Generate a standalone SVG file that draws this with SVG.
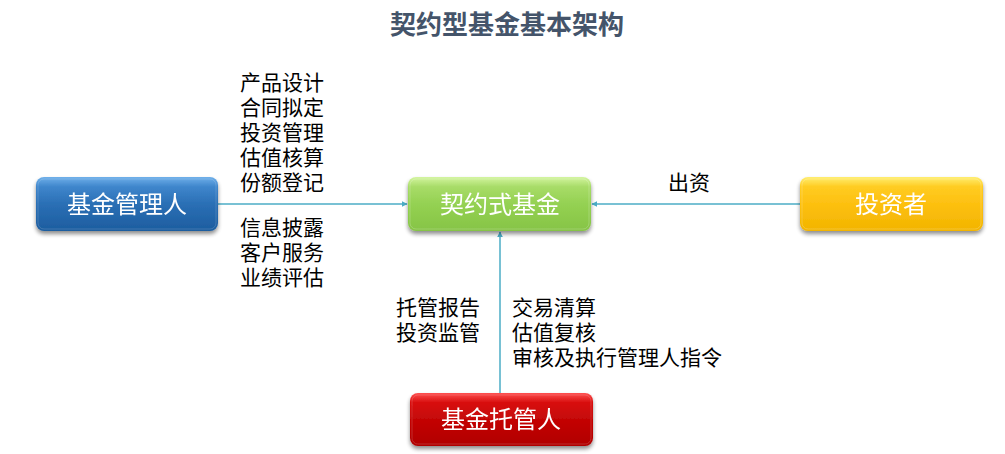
<svg xmlns="http://www.w3.org/2000/svg" width="1005" height="454" viewBox="0 0 1005 454">
<defs>
<style>
.title{font-family:"Noto Sans CJK SC","Liberation Sans",sans-serif;font-size:26px;font-weight:bold;fill:#44546A;text-anchor:middle}
.lbl{font-family:"Noto Sans CJK SC","Liberation Sans",sans-serif;font-size:21px;fill:#000}
.nt{font-family:"Noto Sans CJK SC","Liberation Sans",sans-serif;font-size:24px;fill:#fff;text-anchor:middle}
.conn{stroke:#4BACC6;stroke-width:1.5;fill:none}
</style>
<linearGradient id="gBlue" x1="0" y1="0" x2="0" y2="1">
<stop offset="0" stop-color="#6fb0ea"/><stop offset="0.18" stop-color="#3f86cc"/><stop offset="0.5" stop-color="#2a6fb5"/><stop offset="1" stop-color="#1d5d9f"/>
</linearGradient>
<linearGradient id="gGreen" x1="0" y1="0" x2="0" y2="1">
<stop offset="0" stop-color="#d4f5a0"/><stop offset="0.18" stop-color="#a8dc68"/><stop offset="0.5" stop-color="#94d152"/><stop offset="1" stop-color="#86c446"/>
</linearGradient>
<linearGradient id="gYellow" x1="0" y1="0" x2="0" y2="1">
<stop offset="0" stop-color="#ffee70"/><stop offset="0.18" stop-color="#ffcc22"/><stop offset="0.5" stop-color="#fdc010"/><stop offset="1" stop-color="#f2b400"/>
</linearGradient>
<linearGradient id="gRed" x1="0" y1="0" x2="0" y2="1">
<stop offset="0" stop-color="#ff5050"/><stop offset="0.18" stop-color="#d81010"/><stop offset="0.5" stop-color="#c40606"/><stop offset="1" stop-color="#b00000"/>
</linearGradient>
<filter id="sh" x="-10%" y="-20%" width="120%" height="150%">
<feGaussianBlur in="SourceAlpha" stdDeviation="2"/>
<feOffset dx="0" dy="3" result="b"/>
<feComponentTransfer><feFuncA type="linear" slope="0.45"/></feComponentTransfer>
<feMerge><feMergeNode/><feMergeNode in="SourceGraphic"/></feMerge>
</filter>
<marker id="arr" viewBox="0 0 10 10" refX="9" refY="5" markerWidth="6" markerHeight="6" orient="auto" markerUnits="userSpaceOnUse">
<path d="M0,0 L10,5 L0,10 z" fill="#4BACC6"/>
</marker>
</defs>
<rect width="1005" height="454" fill="#fff"/>
<text class="title" x="507" y="34">契约型基金基本架构</text>

<g id="connectors">
<line class="conn" x1="218" y1="204" x2="407" y2="204" marker-end="url(#arr)"/>
<line class="conn" x1="800" y1="204" x2="592" y2="204" marker-end="url(#arr)"/>
<line class="conn" x1="500" y1="393" x2="500" y2="232" marker-end="url(#arr)"/>
</g>

<g id="labels">
<text class="lbl" x="240" y="90">产品设计</text>
<text class="lbl" x="240" y="115">合同拟定</text>
<text class="lbl" x="240" y="140">投资管理</text>
<text class="lbl" x="240" y="165">估值核算</text>
<text class="lbl" x="240" y="190">份额登记</text>
<text class="lbl" x="240" y="235">信息披露</text>
<text class="lbl" x="240" y="260">客户服务</text>
<text class="lbl" x="240" y="285">业绩评估</text>
<text class="lbl" x="668" y="190">出资</text>
<text class="lbl" x="396" y="315">托管报告</text>
<text class="lbl" x="396" y="340">投资监管</text>
<text class="lbl" x="512" y="315">交易清算</text>
<text class="lbl" x="512" y="340">估值复核</text>
<text class="lbl" x="512" y="365">审核及执行管理人指令</text>
</g>

<g id="manager" filter="url(#sh)">
<rect x="36" y="177" width="182" height="54" rx="8" fill="url(#gBlue)"/>
<rect x="38" y="179" width="178" height="50" rx="6" fill="none" stroke="#ffffff" stroke-opacity="0.15"/>
<text class="nt" x="127" y="213">基金管理人</text>
</g>
<g id="fund" filter="url(#sh)">
<rect x="408" y="177" width="183" height="54" rx="8" fill="url(#gGreen)"/>
<rect x="410" y="179" width="179" height="50" rx="6" fill="none" stroke="#ffffff" stroke-opacity="0.2"/>
<text class="nt" x="500" y="213">契约式基金</text>
</g>
<g id="investor" filter="url(#sh)">
<rect x="800" y="177" width="183" height="54" rx="8" fill="url(#gYellow)"/>
<rect x="802" y="179" width="179" height="50" rx="6" fill="none" stroke="#ffffff" stroke-opacity="0.2"/>
<text class="nt" x="891" y="213">投资者</text>
</g>
<g id="custodian" filter="url(#sh)">
<rect x="410" y="393" width="183" height="53" rx="8" fill="url(#gRed)"/>
<rect x="412" y="395" width="179" height="49" rx="6" fill="none" stroke="#ffffff" stroke-opacity="0.15"/>
<text class="nt" x="501" y="428">基金托管人</text>
</g>
</svg>
